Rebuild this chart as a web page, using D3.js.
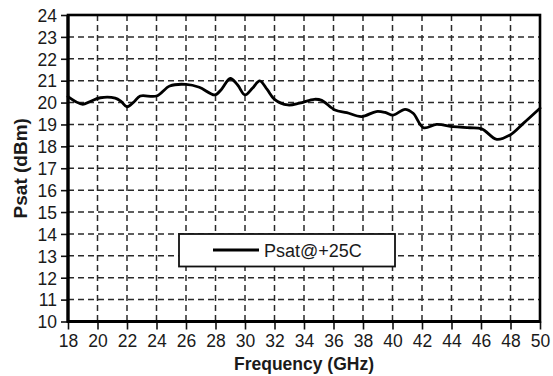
<!DOCTYPE html>
<html>
<head>
<meta charset="utf-8">
<script src="https://cdn.jsdelivr.net/npm/d3@7/dist/d3.min.js"></script>
<style>
  html, body { margin: 0; padding: 0; background: #fff; }
  svg { display: block; }
  text { font-family: "Liberation Sans", Arial, sans-serif; fill: #1a1a1a; }
</style>
</head>
<body>
<svg id="chart" width="553" height="376"></svg>
<script>
// Saturated output power vs frequency at +25C
const freqGHz = [18.0, 18.5, 19.0, 19.5, 20.2, 21.2, 21.6, 22.0, 22.5, 22.9, 24.0, 24.9, 26.0, 26.9,
  27.95, 28.4, 29.0, 29.5, 30.0, 30.5, 31.0, 31.5, 32.0, 32.9, 33.7, 34.7, 35.2, 36.1, 36.9, 37.9,
  38.9, 39.5, 40.05, 40.85, 41.4, 42.1, 43.0, 44.1, 45.25, 46.05, 47.07, 47.97, 48.87, 50.0];
const psatDbm = [20.27, 20.05, 19.92, 20.05, 20.22, 20.2, 20.05, 19.81, 20.05, 20.3, 20.3, 20.76, 20.83, 20.7,
  20.35, 20.6, 21.1, 20.8, 20.35, 20.65, 20.99, 20.6, 20.15, 19.89, 19.97, 20.15, 20.1, 19.66, 19.54, 19.36,
  19.59, 19.55, 19.43, 19.69, 19.51, 18.85, 19.0, 18.9, 18.85, 18.8, 18.32, 18.52, 19.05, 19.74];

const xTicks = d3.range(18, 51, 2);
const yTicks = d3.range(10, 25, 1);
const seriesName = "Psat@+25C";
const xTitle = "Frequency (GHz)";
const yTitle = "Psat (dBm)";

const svg = d3.select("#chart");
const plotLeft = 68, plotRight = 540, plotTop = 15, plotBottom = 321.5;

const x = d3.scaleLinear().domain([18, 50]).range([plotLeft, plotRight]);
const y = d3.scaleLinear().domain([10, 24]).range([plotBottom, plotTop]);

// dashed grid
const grid = svg.append("g")
  .attr("stroke", "#2a2a2a")
  .attr("stroke-width", 1.5)
  .attr("stroke-dasharray", "6,4");
grid.selectAll("line.v").data(xTicks.slice(1, -1)).join("line")
  .attr("class", "v")
  .attr("x1", d => x(d)).attr("x2", d => x(d))
  .attr("y1", plotTop).attr("y2", plotBottom);
grid.selectAll("line.h").data(yTicks.slice(1, -1)).join("line")
  .attr("class", "h")
  .attr("x1", plotLeft).attr("x2", plotRight)
  .attr("y1", d => y(d)).attr("y2", d => y(d));

// axes
const xAxis = d3.axisBottom(x).tickValues(xTicks).tickSize(8).tickPadding(5).tickFormat(d3.format("d"));
const yAxis = d3.axisLeft(y).tickValues(yTicks).tickSize(7).tickPadding(4).tickFormat(d3.format("d"));

const gx = svg.append("g").attr("transform", `translate(0,${plotBottom})`).call(xAxis);
const gy = svg.append("g").attr("transform", `translate(${plotLeft},0)`).call(yAxis);
[gx, gy].forEach(g => {
  g.select(".domain").remove();
  g.selectAll(".tick line").attr("stroke", "#111").attr("stroke-width", 1.6);
  g.selectAll(".tick text").attr("font-size", 17.5).attr("fill", "#1a1a1a")
    .style("font-family", "'Liberation Sans', Arial, sans-serif");
});
gy.selectAll(".tick text").attr("dy", "0.36em");

// frame
svg.append("rect")
  .attr("x", plotLeft).attr("y", plotTop)
  .attr("width", plotRight - plotLeft).attr("height", plotBottom - plotTop)
  .attr("fill", "none").attr("stroke", "#000").attr("stroke-width", 2.6);
svg.append("line").attr("x1", plotLeft).attr("x2", plotLeft).attr("y1", plotTop).attr("y2", plotBottom + 1)
  .attr("stroke", "#000").attr("stroke-width", 3.2);
svg.append("line").attr("x1", plotLeft - 1).attr("x2", plotRight + 1).attr("y1", plotBottom).attr("y2", plotBottom)
  .attr("stroke", "#000").attr("stroke-width", 3.2);

// data line
const pts = freqGHz.map((f, i) => [f, psatDbm[i]]);
const line = d3.line().x(d => x(d[0])).y(d => y(d[1])).curve(d3.curveCatmullRom.alpha(0.5));
svg.append("path").datum(pts)
  .attr("d", line)
  .attr("fill", "none").attr("stroke", "#000").attr("stroke-width", 2.8)
  .attr("stroke-linejoin", "round").attr("stroke-linecap", "round");

// legend
const lg = svg.append("g");
lg.append("rect")
  .attr("x", 179).attr("y", 234).attr("width", 216).attr("height", 32.5)
  .attr("fill", "#fff").attr("stroke", "#111").attr("stroke-width", 1.8);
lg.append("line")
  .attr("x1", 213).attr("x2", 259).attr("y1", 250).attr("y2", 250)
  .attr("stroke", "#000").attr("stroke-width", 3);
lg.append("text")
  .attr("x", 264).attr("y", 256.5)
  .attr("font-size", 18)
  .text(seriesName);

// axis titles
svg.append("text")
  .attr("x", (plotLeft + plotRight) / 2).attr("y", 370)
  .attr("text-anchor", "middle")
  .attr("font-size", 17.5).attr("font-weight", "bold")
  .text(xTitle);
svg.append("text")
  .attr("transform", `translate(27,${(plotTop + plotBottom) / 2}) rotate(-90)`)
  .attr("text-anchor", "middle")
  .attr("font-size", 19).attr("font-weight", "bold")
  .text(yTitle);
</script>
</body>
</html>
